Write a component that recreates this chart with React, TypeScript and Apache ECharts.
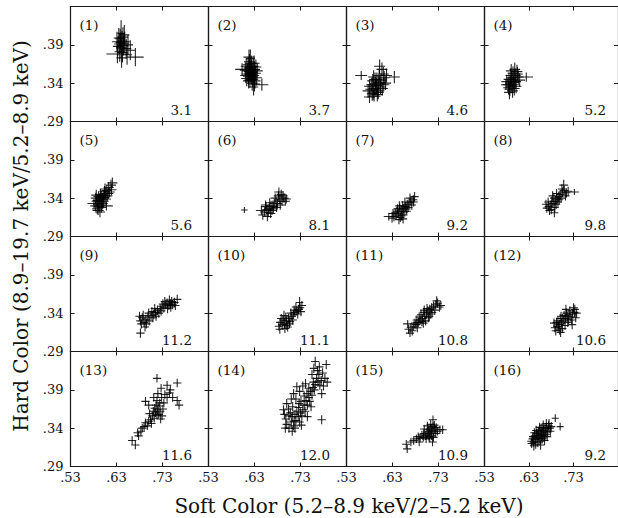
import React, { useEffect, useRef } from "react";
import * as echarts from "echarts";

// ---- data : [x, y, xErr?, yErr?] ----
const p1 = [[.640,.405,.008,.017],[.638,.398],[.642,.395],[.636,.391],[.645,.389],[.640,.386],[.633,.388],[.648,.394],[.644,.400],[.637,.381],[.651,.385],[.631,.394],[.655,.390],[.643,.380],[.647,.403],[.635,.399],[.632,.378,.024,.012],[.671,.374,.018,.012],[.660,.383],[.653,.377],[.641,.373],[.646,.392],[.639,.393]];
const p2 = [[.622,.357],[.618,.360],[.625,.354],[.620,.352],[.627,.362],[.615,.356],[.630,.358],[.623,.366],[.617,.349],[.628,.350],[.612,.362],[.619,.368],[.626,.345],[.632,.353],[.621,.372,.010,.012],[.614,.352],[.624,.348],[.610,.357],[.629,.366],[.634,.347],[.616,.364],[.603,.358,.015,.008],[.625,.340],[.631,.343],[.620,.344],[.636,.356],[.613,.346],[.627,.357],[.619,.355],[.623,.361],[.646,.338,.014,.008],[.630,.339],[.618,.374],[.633,.361],[.611,.350],[.628,.335,.010,.011],[.622,.351],[.617,.343]];
const p3 = [[.595,.337],[.590,.333],[.600,.340],[.585,.338],[.598,.330],[.592,.345],[.604,.335],[.588,.327],[.583,.332],[.597,.325],[.605,.344],[.610,.352],[.607,.358],[.612,.347],[.601,.350],[.593,.339],[.587,.343],[.580,.336],[.599,.328],[.603,.341],[.590,.323,.014,.007],[.615,.340],[.608,.333],[.594,.331],[.586,.326],[.562,.350,.013,.006],[.634,.348,.012,.008],[.617,.350],[.596,.345],[.602,.362],[.589,.348],[.577,.330],[.611,.338],[.580,.322,.012,.008]];
const p4 = [[.592,.344],[.588,.340],[.596,.347],[.585,.345],[.599,.350],[.590,.336],[.594,.353],[.583,.338],[.600,.342],[.587,.332],[.597,.338],[.603,.355],[.580,.342],[.593,.330],[.606,.348],[.589,.350],[.598,.358],[.584,.334],[.601,.336],[.591,.347],[.595,.341],[.578,.338,.011,.007],[.609,.344],[.624,.348,.015,.006],[.586,.328],[.597,.333],[.604,.352],[.590,.356]];
const p5 = [[.599,.338],[.594,.335],[.603,.341],[.590,.332],[.597,.343],[.606,.346],[.587,.336],[.592,.329],[.600,.333],[.609,.350],[.613,.354],[.618,.357],[.621,.360],[.604,.349],[.596,.340],[.584,.330],[.588,.326],[.601,.344],[.610,.343],[.593,.339],[.598,.331],[.585,.340],[.607,.339],[.615,.348],[.590,.324,.012,.006],[.581,.333,.014,.006],[.602,.336],[.595,.345],[.612,.346],[.591,.342],[.605,.352],[.619,.351],[.589,.337],[.597,.328],[.594,.322,.011,.007],[.608,.330,.014,.006],[.586,.344]];
const p6 = [[.608,.3245,.007,.004],[.652,.322],[.657,.325],[.648,.318],[.662,.327],[.660,.321],[.666,.330],[.655,.329],[.670,.329],[.673,.333],[.668,.324],[.677,.336],[.680,.333],[.685,.338],[.690,.336],[.694,.340],[.697,.336],[.688,.345],[.682,.343],[.675,.340],[.663,.334],[.658,.316],[.671,.326],[.645,.324,.012,.006],[.686,.331],[.692,.343],[.678,.328],[.665,.320],[.654,.331],[.683,.348],[.699,.339]];
const p7 = [[.649,.323],[.643,.320],[.654,.326],[.638,.318],[.646,.327],[.658,.329],[.633,.316],[.640,.323],[.651,.319],[.662,.332],[.666,.334],[.670,.336],[.675,.338],[.678,.342],[.655,.322],[.647,.315],[.660,.326],[.636,.321],[.629,.314],[.622,.316,.011,.005],[.644,.312],[.652,.330],[.664,.328],[.672,.331],[.657,.335],[.641,.326],[.650,.317],[.668,.340],[.631,.320],[.653,.313],[.661,.323],[.645,.330],[.676,.335]];
const p8 = [[.689,.336],[.684,.333],[.693,.339],[.679,.331],[.686,.340],[.697,.342],[.674,.329],[.681,.336],[.691,.332],[.700,.345],[.705,.348],[.709,.350],[.714,.347],[.718,.349],[.708,.357,.010,.007],[.695,.335],[.688,.328],[.676,.324],[.670,.327],[.668,.332],[.702,.340],[.683,.343],[.692,.346],[.712,.343],[.732,.348,.010,.004],[.680,.325],[.698,.338],[.673,.335],[.704,.352],[.687,.321,.009,.006]];
const p9 = [[.682,.330],[.686,.334],[.690,.328],[.694,.332],[.688,.337],[.698,.335],[.701,.330],[.695,.326],[.705,.337],[.709,.334],[.711,.338],[.707,.342],[.715,.341],[.719,.344],[.722,.340],[.725,.346],[.729,.349],[.733,.347],[.737,.351],[.740,.353],[.744,.350],[.747,.352],[.750,.355],[.748,.348],[.752,.351],[.756,.354],[.762,.358],[.741,.346],[.735,.355],[.727,.343],[.716,.336],[.700,.340],[.684,.326],[.692,.322],[.680,.336],[.682,.314],[.745,.357],[.731,.352],[.758,.350],[.713,.346]];
const p10 = [[.700,.330],[.695,.327],[.704,.333],[.690,.325],[.686,.328],[.683,.323],[.692,.331],[.698,.335],[.707,.329],[.711,.336],[.715,.338],[.718,.341],[.722,.343],[.726,.345],[.729,.347],[.724,.339],[.728,.354,.008,.007],[.731,.342],[.702,.322],[.696,.320],[.688,.333],[.709,.340],[.713,.331],[.694,.337],[.685,.319],[.720,.348],[.706,.326],[.733,.350],[.716,.344],[.699,.324]];
const p11 = [[.700,.336],[.695,.333],[.704,.339],[.690,.331],[.686,.328],[.681,.325],[.676,.323],[.670,.321],[.665,.319],[.663,.326,.010,.005],[.692,.338],[.698,.341],[.707,.343],[.711,.345],[.715,.347],[.719,.349],[.724,.351],[.728,.353],[.732,.348],[.735,.350],[.713,.339],[.708,.334],[.702,.330],[.697,.327],[.688,.335],[.684,.321],[.673,.317],[.722,.344],[.716,.341],[.705,.346],[.694,.329],[.683,.331],[.726,.356],[.710,.336],[.679,.327],[.668,.314,.009,.005],[.699,.344]];
const p12 = [[.708,.330],[.703,.327],[.712,.333],[.698,.325],[.693,.323],[.688,.321],[.686,.327],[.695,.330],[.700,.333],[.716,.336],[.720,.338],[.724,.335],[.728,.339],[.732,.341],[.737,.340],[.733,.345],[.726,.331],[.711,.324],[.705,.320],[.699,.318],[.690,.317],[.714,.340],[.719,.332],[.702,.336],[.696,.322],[.709,.337],[.722,.343],[.717,.328],[.705,.333],[.692,.328],[.735,.334],[.730,.347,.010,.006],[.713,.345],[.701,.315],[.727,.325]];
const p13 = [[.664,.324],[.671,.318],[.678,.330],[.676,.334],[.686,.340],[.683,.336],[.690,.342],[.697,.343],[.693,.347],[.700,.349],[.704,.351],[.708,.356],[.712,.353],[.715,.360],[.718,.357],[.722,.358],[.719,.364],[.725,.362],[.713,.366],[.716,.370],[.722,.369],[.726,.352],[.729,.356],[.710,.362],[.706,.346],[.702,.359],[.724,.373],[.718,.376],[.733,.373],[.728,.380],[.735,.384],[.740,.396],[.747,.390],[.762,.399],[.718,.405],[.693,.375],[.762,.376],[.766,.370],[.740,.380],[.731,.365],[.720,.385],[.745,.386],[.711,.380],[.700,.370],[.727,.392],[.752,.380]];
const p14 = [[.700,.345],[.705,.340],[.710,.348],[.698,.352],[.715,.343],[.712,.355],[.720,.350],[.708,.360],[.718,.358],[.725,.355],[.722,.362],[.704,.365],[.695,.358],[.713,.368],[.728,.348],[.730,.360],[.726,.367],[.733,.356],[.735,.364],[.738,.370],[.731,.375],[.740,.362],[.742,.376],[.745,.370],[.748,.380],[.744,.385],[.750,.375],[.752,.388],[.755,.383],[.757,.393],[.760,.390],[.758,.400],[.762,.397],[.765,.405],[.768,.400],[.770,.410],[.772,.396],[.775,.402],[.767,.415],[.762,.427],[.786,.423],[.778,.412],[.780,.395],[.783,.405],[.788,.400],[.776,.385],[.776,.351],[.693,.364],[.722,.394],[.715,.385],[.728,.388],[.735,.395],[.720,.378],[.710,.378],[.700,.372],[.718,.340],[.732,.344],[.745,.355],[.753,.368],[.705,.356],[.716,.349],[.727,.372],[.738,.382],[.748,.392],[.741,.398],[.755,.410],[.759,.418],[.771,.420],[.712,.336],[.697,.340]];
const p15 = [[.660,.319],[.662,.313],[.670,.322],[.676,.324],[.682,.326],[.686,.329],[.690,.327],[.694,.331],[.698,.333],[.702,.330],[.705,.335],[.707,.332],[.710,.336],[.712,.333],[.708,.338],[.714,.340],[.716,.337],[.718,.342],[.718,.351],[.720,.335],[.722,.339],[.724,.333],[.715,.330],[.711,.327],[.703,.326],[.699,.339],[.725,.341],[.728,.336],[.733,.338],[.739,.338],[.717,.322],[.706,.343],[.713,.345],[.721,.344],[.709,.329],[.697,.328],[.688,.322],[.719,.328]];
const p16 = [[.657,.332],[.652,.330],[.661,.334],[.648,.327],[.644,.325],[.640,.322],[.636,.320],[.638,.326],[.643,.330],[.647,.333],[.651,.336],[.655,.338],[.659,.340],[.663,.337],[.666,.339],[.670,.341],[.674,.343],[.677,.340],[.680,.342],[.672,.335],[.668,.332],[.664,.329],[.660,.326],[.655,.323],[.650,.321],[.645,.319],[.641,.317],[.653,.327],[.658,.330],[.662,.331],[.667,.336],[.649,.331],[.646,.337],[.654,.341],[.662,.344],[.669,.346],[.675,.346],[.639,.329],[.635,.323],[.671,.329],[.656,.318],[.689,.353,.008,.005],[.700,.342,.008,.005],[.665,.324],[.678,.336],[.642,.334]];

const panels = [p1, p2, p3, p4, p5, p6, p7, p8, p9, p10, p11, p12, p13, p14, p15, p16];
const panelValues = ["3.1","3.7","4.6","5.2","5.6","8.1","9.2","9.8","11.2","11.1","10.8","10.6","11.6","12.0","10.9","9.2"];
const defaultXErr = [.011,.012,.012,.012,.011,.010,.009,.009,.009,.009,.009,.009,.009,.009,.009,.009];
const defaultYErr = [.013,.010,.009,.009,.007,.006,.006,.006,.006,.006,.006,.006,.0055,.006,.0055,.006];

const xMin = 0.53, xMax = 0.83, xStep = 0.1;
const yMin = 0.29, yMax = 0.44, yStep = 0.05;
const xTitle = "Soft Color (5.2–8.9 keV/2–5.2 keV)";
const yTitle = "Hard Color (8.9–19.7 keV/5.2–8.9 keV)";

const FONT = "DejaVu Serif";
const LINE = "#1a1a1a";

export default function App() {
  const ref = useRef<HTMLDivElement>(null);
  useEffect(() => {
    if (!ref.current) return;
    const chart = echarts.init(ref.current, null, { renderer: "svg" });
    const left0 = 70.5, top0 = 6.5, W = 138, H = 115;
    const grids: any[] = [], xAxes: any[] = [], yAxes: any[] = [], series: any[] = [], graphics: any[] = [];
    const fmt = (lim: number) => (v: number) => (v > lim ? "" : v.toFixed(2).slice(1));
    panels.forEach((pts, i) => {
      const r = Math.floor(i / 4), c = i % 4;
      const L = left0 + c * W, T = top0 + r * H;
      grids.push({ left: L, top: T, width: W, height: H, containLabel: false });
      const lineStyle = { color: LINE, width: 1.2 };
      const tick = { show: true, inside: true, length: 4, lineStyle: { color: LINE, width: 1 } };
      const baseX = { type: "value", gridIndex: i, min: xMin, max: xMax, interval: xStep, splitLine: { show: false }, axisLine: { show: true, onZero: false, lineStyle }, axisTick: tick };
      xAxes.push({ ...baseX, position: "bottom", axisLabel: { show: r === 3, margin: 4, formatter: fmt(0.8), fontFamily: FONT, fontSize: 13, color: "#111", showMaxLabel: false } });
      xAxes.push({ ...baseX, position: "top", axisLabel: { show: false } });
      const baseY = { type: "value", gridIndex: i, min: yMin, max: yMax, interval: yStep, splitLine: { show: false }, axisLine: { show: true, onZero: false, lineStyle }, axisTick: tick };
      yAxes.push({ ...baseY, position: "left", axisLabel: { show: c === 0, margin: 7, formatter: fmt(0.42), fontFamily: FONT, fontSize: 13, color: "#111" } });
      yAxes.push({ ...baseY, position: "right", axisLabel: { show: false } });
      const data = pts.map((p) => [p[0], p[1], p[2] ?? defaultXErr[i], p[3] ?? defaultYErr[i]]);
      series.push({
        type: "custom",
        coordinateSystem: "cartesian2d",
        xAxisIndex: 2 * i,
        yAxisIndex: 2 * i,
        encode: { x: 0, y: 1 },
        data,
        clip: true,
        renderItem: (params: any, api: any) => {
          const x = api.value(0), y = api.value(1), ex = api.value(2), ey = api.value(3);
          const a = api.coord([x - ex, y]), b = api.coord([x + ex, y]);
          const t = api.coord([x, y + ey]), d = api.coord([x, y - ey]);
          const style = { stroke: "#000", lineWidth: 1.1, opacity: 0.85 };
          return {
            type: "group",
            children: [
              { type: "line", shape: { x1: a[0], y1: a[1], x2: b[0], y2: b[1] }, style },
              { type: "line", shape: { x1: t[0], y1: t[1], x2: d[0], y2: d[1] }, style },
            ],
          };
        },
      });
      graphics.push({ type: "text", x: L + 9, y: T + 18.5, style: { text: `(${i + 1})`, font: `13.5px "${FONT}"`, fill: "#111", align: "left", verticalAlign: "middle", textAlign: "left", textVerticalAlign: "middle" } });
      graphics.push({ type: "text", x: L + W - 16.5, y: T + H - 12, style: { text: panelValues[i], font: `13.5px "${FONT}"`, fill: "#111", align: "right", verticalAlign: "middle", textAlign: "right", textVerticalAlign: "middle" } });
    });
    graphics.push({ type: "text", x: 349, y: 506, style: { text: xTitle, font: `20px "${FONT}"`, fill: "#111", align: "center", verticalAlign: "middle", textAlign: "center", textVerticalAlign: "middle" } });
    graphics.push({ type: "text", x: 21, y: 236, rotation: Math.PI / 2, style: { text: yTitle, font: `20px "${FONT}"`, fill: "#111", align: "center", verticalAlign: "middle", textAlign: "center", textVerticalAlign: "middle" } });
    chart.setOption({
      animation: false,
      backgroundColor: "#fff",
      grid: grids,
      xAxis: xAxes,
      yAxis: yAxes,
      series,
      graphic: graphics,
    });
    return () => chart.dispose();
  }, []);
  return <div ref={ref} style={{ position: "fixed", left: 0, top: 0, width: 618, height: 518 }} />;
}
